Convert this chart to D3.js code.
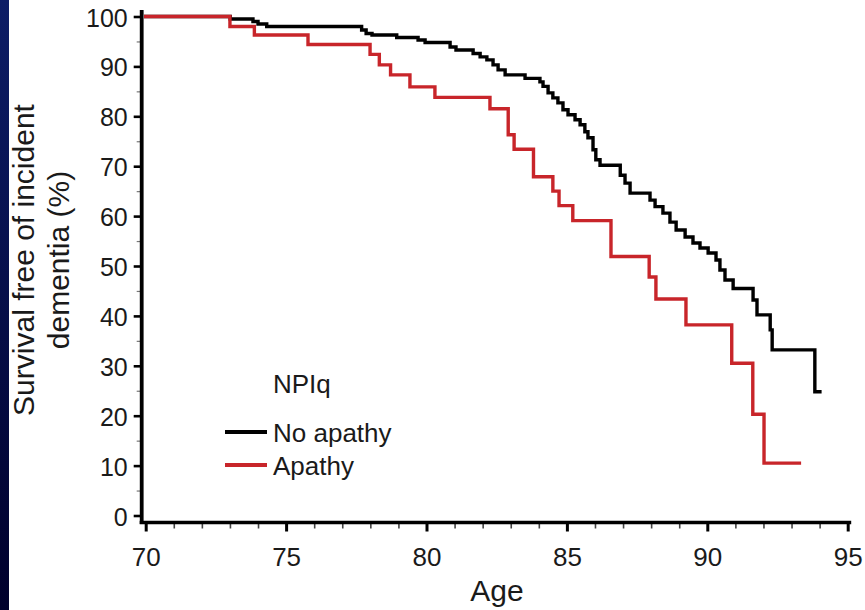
<!DOCTYPE html>
<html>
<head>
<meta charset="utf-8">
<script src="https://cdn.jsdelivr.net/npm/d3@7"></script>
<style>
  html, body { margin: 0; padding: 0; background: #ffffff; }
  svg { display: block; }
  text { font-family: "Liberation Sans", Arial, Helvetica, sans-serif; fill: #1a1a1a; }
</style>
</head>
<body>
<svg id="chart" width="865" height="610"></svg>
<script>
// ---- Data ----
const xTickValues = [70, 75, 80, 85, 90, 95];
const yTickValues = [0, 10, 20, 30, 40, 50, 60, 70, 80, 90, 100];
const seriesNames = ["No apathy", "Apathy"];
const legendTitle = "NPIq";
const xTitle = "Age";
const yTitleLines = ["Survival free of incident", "dementia (%)"];

// No apathy (black) Kaplan–Meier steps: age at step, survival % after step
const noApathyAge = [70, 73.01, 73.82, 74.0, 74.31, 77.69, 77.85, 78.06, 78.94, 79.70, 79.95,
  80.84, 81.05, 81.66, 81.91, 82.15, 82.37, 82.55, 82.80, 83.51, 84.04, 84.15, 84.33, 84.50,
  84.68, 84.86, 85.04, 85.29, 85.47, 85.64, 85.75, 85.93, 86.03, 86.18, 86.90, 87.07, 87.25,
  87.96, 88.14, 88.42, 88.67, 88.89, 89.21, 89.49, 89.74, 90.03, 90.31, 90.45, 90.63, 90.92,
  91.63, 91.77, 92.24, 92.31, 93.83, 94.01];
const noApathySurv = [100, 99.5, 99.0, 98.5, 98.0, 97.3, 96.6, 96.3, 95.8, 95.3, 94.8,
  93.9, 93.3, 92.6, 91.9, 91.3, 90.3, 89.3, 88.3, 87.6, 86.9, 86.0, 84.7, 83.7,
  82.7, 81.3, 80.3, 79.3, 78.3, 76.9, 75.7, 73.3, 71.3, 70.2, 68.2, 66.6, 64.6,
  63.2, 61.9, 60.6, 58.8, 57.2, 55.8, 54.6, 53.6, 52.6, 51.2, 49.2, 47.2, 45.5,
  43.2, 40.2, 37.2, 33.2, 24.8, 24.8];

// Apathy (red) steps
const apathyAge = [70, 73.0, 73.87, 75.78, 77.99, 78.32, 78.72, 79.41, 80.30, 82.26, 82.91,
  83.12, 83.81, 84.50, 84.72, 85.21, 86.57, 87.93, 88.17, 89.24, 90.87, 91.62, 92.02, 93.28];
const apathySurv = [100, 98.0, 96.3, 94.4, 92.4, 90.3, 88.3, 85.9, 83.8, 81.5, 76.3,
  73.4, 67.9, 65.0, 62.1, 59.1, 51.9, 47.8, 43.4, 38.2, 30.5, 20.3, 10.5, 10.5];

const seriesColors = ["#000000", "#c8252a"];

// ---- Drawing ----
const svg = d3.select("#chart");

// dark blue strip on the left edge
const defs = svg.append("defs");
const grad = defs.append("linearGradient").attr("id", "strip")
  .attr("x1", 0).attr("y1", 0).attr("x2", 0).attr("y2", 1);
grad.append("stop").attr("offset", "0%").attr("stop-color", "#0d1d66");
grad.append("stop").attr("offset", "100%").attr("stop-color", "#00002c");
svg.append("rect").attr("x", 0).attr("y", 0).attr("width", 9).attr("height", 610)
  .attr("fill", "url(#strip)");

const x = d3.scaleLinear().domain([70, 95]).range([145.7, 847.7]);
const y = d3.scaleLinear().domain([0, 100]).range([515.5, 16.5]);
const xAxisY = 522.5;
const yAxisX = 141.7;

// minor ticks x
const xMinor = d3.range(70, 96, 1).filter(v => !xTickValues.includes(v));
svg.append("g").attr("transform", `translate(0,${xAxisY})`)
  .call(d3.axisBottom(x).tickValues(xMinor).tickSize(6).tickFormat(""))
  .call(g => g.select(".domain").remove())
  .call(g => g.selectAll("line").attr("stroke", "#444").attr("stroke-width", 1.6));

// major ticks x
svg.append("g").attr("transform", `translate(0,${xAxisY})`)
  .call(d3.axisBottom(x).tickValues(xTickValues).tickSize(9).tickPadding(16).tickFormat(d3.format("d")))
  .call(g => g.select(".domain").remove())
  .call(g => g.selectAll("line").attr("stroke", "#000").attr("stroke-width", 3))
  .call(g => g.selectAll("text").attr("font-size", 26).attr("fill", "#1a1a1a")
    .attr("font-family", '"Liberation Sans", Arial, sans-serif'));

// minor ticks y
const yMinor = d3.range(5, 100, 10);
svg.append("g").attr("transform", `translate(${yAxisX},0)`)
  .call(d3.axisLeft(y).tickValues(yMinor).tickSize(5).tickFormat(""))
  .call(g => g.select(".domain").remove())
  .call(g => g.selectAll("line").attr("stroke", "#777").attr("stroke-width", 1.2));

// major ticks y
svg.append("g").attr("transform", `translate(${yAxisX},0)`)
  .call(d3.axisLeft(y).tickValues(yTickValues).tickSize(8).tickPadding(6).tickFormat(d3.format("d")))
  .call(g => g.select(".domain").remove())
  .call(g => g.selectAll("line").attr("stroke", "#000").attr("stroke-width", 2.6))
  .call(g => g.selectAll("text").attr("font-size", 25).attr("dy", "0.38em").attr("fill", "#1a1a1a")
    .attr("font-family", '"Liberation Sans", Arial, sans-serif'));

// axis lines
svg.append("line")
  .attr("x1", yAxisX - 2).attr("x2", x(95) + 3.5)
  .attr("y1", xAxisY).attr("y2", xAxisY)
  .attr("stroke", "#000").attr("stroke-width", 3.4);
svg.append("line")
  .attr("x1", yAxisX).attr("x2", yAxisX)
  .attr("y1", y(100) - 6.5).attr("y2", xAxisY + 1.5)
  .attr("stroke", "#000").attr("stroke-width", 3.8);

// curves
const line = d3.line().curve(d3.curveStepAfter).x(d => x(d[0])).y(d => y(d[1]));
const seriesData = [
  d3.zip(noApathyAge, noApathySurv),
  d3.zip(apathyAge, apathySurv)
];
svg.append("g").selectAll("path").data(seriesData).join("path")
  .attr("d", line)
  .attr("fill", "none")
  .attr("stroke", (d, i) => seriesColors[i])
  .attr("stroke-width", 3.4)
  .attr("stroke-linejoin", "miter")
  .attr("stroke-linecap", "square");

// axis titles
svg.append("text").attr("x", 497).attr("y", 601).attr("text-anchor", "middle")
  .attr("font-size", 30).text(xTitle);
const yt = svg.append("text").attr("transform", "translate(34,260) rotate(-90)")
  .attr("text-anchor", "middle").attr("font-size", 30);
yt.append("tspan").attr("x", 0).attr("y", 0).text(yTitleLines[0]);
yt.append("tspan").attr("x", 0).attr("y", 35).text(yTitleLines[1]);

// legend
const leg = svg.append("g");
leg.append("text").attr("x", 273).attr("y", 393).attr("font-size", 26).text(legendTitle);
const legY = [432, 465];
const legBase = [442, 475];
seriesNames.forEach((name, i) => {
  leg.append("line").attr("x1", 225).attr("x2", 267).attr("y1", legY[i]).attr("y2", legY[i])
    .attr("stroke", seriesColors[i]).attr("stroke-width", 4);
  leg.append("text").attr("x", 273).attr("y", legBase[i]).attr("font-size", 26).text(name);
});
</script>
</body>
</html>
